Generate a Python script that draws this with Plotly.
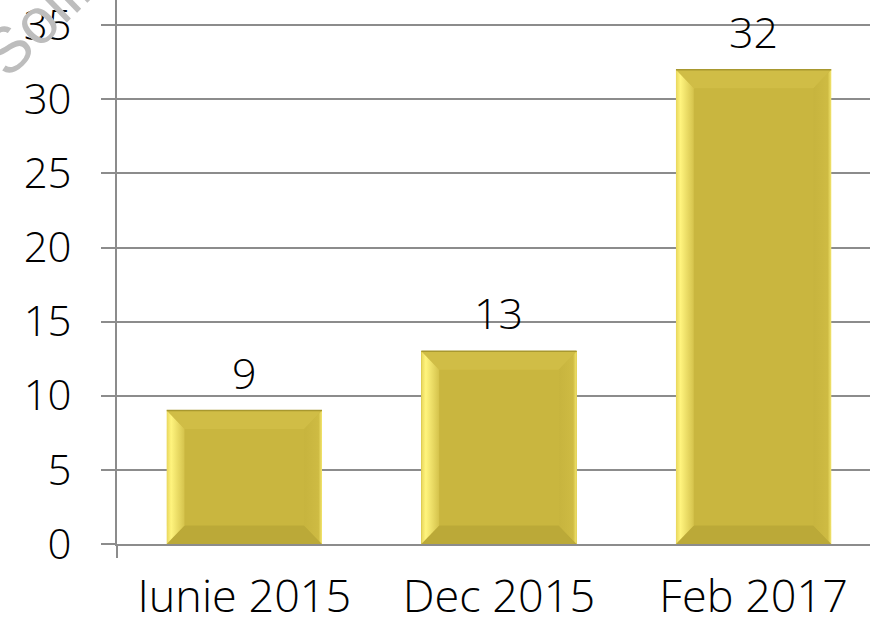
import plotly.graph_objects as go

# Chart data
categories = ["Iunie 2015", "Dec 2015", "Feb 2017"]
values = [9, 13, 32]
y_ticks = [0, 5, 10, 15, 20, 25, 30, 35]

FONT = "Open Sans"
GRID = "#8c8c8c"
FACE = "#c9b63f"

BAR_W = 0.61        # bar width in category units
BEV_X = 0.07        # bevel width, category units
BEV_Y = 1.25        # bevel height, value units

fig = go.Figure()

# Base bars
fig.add_trace(go.Bar(
    x=list(range(len(categories))), y=values, width=BAR_W,
    marker=dict(color=FACE, line=dict(width=0)),
    hoverinfo="skip", showlegend=False,
))


def bevel(xs, ys, **kw):
    fig.add_trace(go.Scatter(
        x=xs, y=ys, mode="lines", fill="toself",
        line=dict(width=0), hoverinfo="skip", showlegend=False, **kw))


# Bevelled edges of each bar, built from the same values
for i, v in enumerate(values):
    x0, x1 = i - BAR_W / 2, i + BAR_W / 2
    # top face
    bevel([x0, x1, x1 - BEV_X, x0 + BEV_X, x0],
          [v, v, v - BEV_Y, v - BEV_Y, v], fillcolor="#d0bd46")
    # bottom face
    bevel([x0, x1, x1 - BEV_X, x0 + BEV_X, x0],
          [0, 0, BEV_Y, BEV_Y, 0], fillcolor="#bba938")
    # right face
    bevel([x1, x1, x1 - BEV_X, x1 - BEV_X, x1],
          [v, 0, BEV_Y, v - BEV_Y, v],
          fillgradient=dict(type="horizontal",
                            colorscale=[[0, "#c7b43e"], [0.8, "#cebb43"], [1, "#f4e66e"]]))
    # left face
    bevel([x0, x0, x0 + BEV_X, x0 + BEV_X, x0],
          [0, v, v - BEV_Y, BEV_Y, 0],
          fillgradient=dict(type="horizontal",
                            colorscale=[[0, "#e8d65c"], [0.25, "#fff47e"], [1, "#d5c34c"]]))
    # thin dark rim along the top edge
    fig.add_trace(go.Scatter(
        x=[x0, x1], y=[v, v], mode="lines",
        line=dict(color="#a8982f", width=1.5),
        hoverinfo="skip", showlegend=False))

# Value labels above the bars
for i, v in enumerate(values):
    fig.add_annotation(
        x=i, y=v, text=str(v), showarrow=False,
        yanchor="bottom", yshift=7,
        font=dict(family=FONT, size=43, color="#000000", weight=300))

# Watermark in the upper-left corner
fig.add_annotation(
    xref="paper", yref="paper", x=-0.108, y=0.96,
    xanchor="center", yanchor="middle",
    text="Solli", showarrow=False, textangle=-44,
    font=dict(family="Liberation Sans", size=64, color="#bdbdbd"))

# Axis line continues a little below zero
fig.add_shape(
    type="line", xref="paper", yref="paper",
    x0=0, x1=0, y0=0, y1=-14 / 544,
    line=dict(color=GRID, width=2))

fig.update_layout(
    width=870, height=624,
    margin=dict(l=117, r=0, t=0, b=80, autoexpand=False),
    paper_bgcolor="white", plot_bgcolor="white",
    font=dict(family=FONT, size=43, color="#000000"),
    bargap=0,
    xaxis=dict(
        tickmode="array", tickvals=list(range(len(categories))),
        ticktext=categories, range=[-0.5, 2.457],
        showgrid=False, zeroline=False,
        showline=True, linecolor=GRID, linewidth=2,
        ticks="", ticklabelstandoff=12, automargin=False,
        ticklabeloverflow="allow",
        tickfont=dict(family=FONT, size=45, color="#000000", weight=300),
        fixedrange=True,
    ),
    yaxis=dict(
        range=[0, 36.7], tickmode="array", tickvals=y_ticks,
        showgrid=True, gridcolor=GRID, gridwidth=2,
        zeroline=False,
        showline=True, linecolor=GRID, linewidth=2,
        ticks="outside", ticklen=14, tickwidth=2, tickcolor=GRID,
        ticklabelstandoff=21, automargin=False,
        ticklabeloverflow="allow",
        tickfont=dict(family=FONT, size=42, color="#000000", weight=300),
        fixedrange=True,
    ),
)

fig.write_html("out.html", config=dict(displayModeBar=False))
